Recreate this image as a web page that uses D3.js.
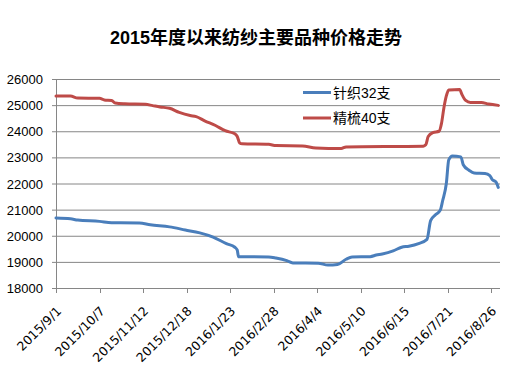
<!DOCTYPE html>
<html><head><meta charset="utf-8">
<script src="https://cdn.jsdelivr.net/npm/d3@7"></script>
<style>body{margin:0;background:#fff}svg{display:block}</style>
</head><body>
<svg id="c" width="531" height="375"></svg>
<script>
const title = "2015年度以来纺纱主要品种价格走势";
const seriesNames = ["针织32支", "精梳40支"];
const yTicks = [18000,19000,20000,21000,22000,23000,24000,25000,26000];
const xTickLabels = ["2015/9/1","2015/10/7","2015/11/12","2015/12/18","2016/1/23","2016/2/28","2016/4/4","2016/5/10","2016/6/15","2016/7/21","2016/8/26"];

const blueDates = ["2015/9/1","2015/9/13","2015/9/19","2015/10/7","2015/10/17","2015/11/9","2015/11/18","2015/12/4","2015/12/17","2015/12/29","2016/1/9","2016/1/20","2016/1/27","2016/1/29","2016/1/30","2016/2/24","2016/3/1","2016/3/10","2016/3/15","2016/4/5","2016/4/13","2016/4/21","2016/4/28","2016/5/3","2016/5/18","2016/5/23","2016/5/28","2016/6/6","2016/6/13","2016/6/19","2016/6/27","2016/7/4","2016/7/7","2016/7/11","2016/7/15","2016/7/17","2016/7/20","2016/7/22","2016/7/25","2016/8/1","2016/8/3","2016/8/8","2016/8/12","2016/8/21","2016/8/25","2016/8/27","2016/8/30","2016/9/1"];
const blueValues = [20680,20650,20600,20550,20500,20490,20420,20340,20220,20110,19950,19700,19560,19450,19200,19190,19150,19050,18960,18950,18880,18900,19100,19190,19200,19260,19300,19420,19560,19600,19700,19860,20580,20800,20980,21350,22000,22900,23050,23020,22720,22500,22400,22380,22300,22150,22060,21850];

const redDates = ["2015/9/1","2015/9/13","2015/9/19","2015/10/7","2015/10/11","2015/10/17","2015/10/20","2015/10/28","2015/11/14","2015/11/20","2015/11/26","2015/12/4","2015/12/12","2015/12/21","2015/12/26","2016/1/2","2016/1/11","2016/1/19","2016/1/27","2016/1/29","2016/1/31","2016/2/2","2016/2/24","2016/3/1","2016/3/23","2016/4/3","2016/4/24","2016/4/28","2016/7/1","2016/7/3","2016/7/5","2016/7/9","2016/7/14","2016/7/16","2016/7/18","2016/7/20","2016/7/22","2016/7/31","2016/8/2","2016/8/5","2016/8/9","2016/8/18","2016/8/24","2016/9/1"];
const redValues = [25350,25350,25270,25260,25200,25180,25080,25050,25030,24980,24930,24880,24720,24600,24560,24400,24220,24020,23900,23800,23550,23520,23500,23450,23440,23360,23340,23400,23430,23480,23800,23950,24000,24300,24900,25350,25580,25600,25400,25180,25100,25100,25040,24990];

const colors = ["#4A7EBB","#BE4B48"];
const parse = d3.timeParse("%Y/%m/%d");
const svg = d3.select("#c");
const font = "'Liberation Sans', Arial, 'Noto Sans CJK SC', sans-serif";
const xFont = "'DejaVu Sans', Tahoma, sans-serif";
svg.append("rect").attr("width",531).attr("height",375).attr("fill","#fff");

const x = d3.scaleTime().domain([parse("2015/9/1"), parse("2016/9/2")]).range([56, 499.5]);
const y = d3.scaleLinear().domain([18000, 26000]).range([288, 79]);

// gridlines
svg.append("g").selectAll("line").data(yTicks).join("line")
  .attr("x1", 52).attr("x2", 500)
  .attr("y1", d => y(d)+0.5).attr("y2", d => y(d)+0.5)
  .attr("stroke", "#868686").attr("stroke-width", 1);
// y axis line
svg.append("line").attr("x1",56.5).attr("x2",56.5).attr("y1",y(26000)).attr("y2",y(18000)+0.5)
  .attr("stroke","#868686");
// y labels
svg.append("g").selectAll("text").data(yTicks).join("text")
  .attr("x", 43).attr("y", d => y(d)+5)
  .attr("text-anchor","end").attr("font-family",font).attr("font-size",13).attr("fill","#000")
  .text(d => d);
// x ticks
const xt = xTickLabels.map(parse);
svg.append("g").selectAll("line").data(xt).join("line")
  .attr("x1", d => Math.round(x(d))+0.5).attr("x2", d => Math.round(x(d))+0.5)
  .attr("y1", y(18000)).attr("y2", y(18000)+5).attr("stroke","#868686");
svg.append("g").selectAll("text").data(xt).join("text")
  .attr("transform", d => `translate(${x(d)+6},${y(18000)+24}) rotate(-45)`)
  .attr("text-anchor","end").attr("font-family",xFont).attr("font-size",12.5).attr("fill","#000")
  .text((d,i) => xTickLabels[i]);

// lines
const line = d3.line().x(d => x(d[0])).y(d => y(d[1])).curve(d3.curveMonotoneX);
const series = [
  blueDates.map((d,i) => [parse(d), blueValues[i]]),
  redDates.map((d,i) => [parse(d), redValues[i]])
];
series.forEach((s,i) => {
  svg.append("path").datum(s).attr("d", line).attr("fill","none")
    .attr("stroke", colors[i]).attr("stroke-width", 3).attr("stroke-linejoin","round").attr("stroke-linecap","round");
});

// legend
seriesNames.forEach((n,i) => {
  const ly = 92.5 + i*25.5;
  svg.append("line").attr("x1",303).attr("x2",331).attr("y1",ly).attr("y2",ly)
    .attr("stroke",colors[i]).attr("stroke-width",3);
  svg.append("text").attr("x",333).attr("y",ly+5).attr("font-family",font).attr("font-size",14).attr("fill","#000").text(n);
});

// title
svg.append("text").attr("x",256).attr("y",44).attr("text-anchor","middle")
  .attr("font-family",font).attr("font-weight","bold").attr("font-size",18).attr("fill","#000").text(title);
</script>
</body></html>
